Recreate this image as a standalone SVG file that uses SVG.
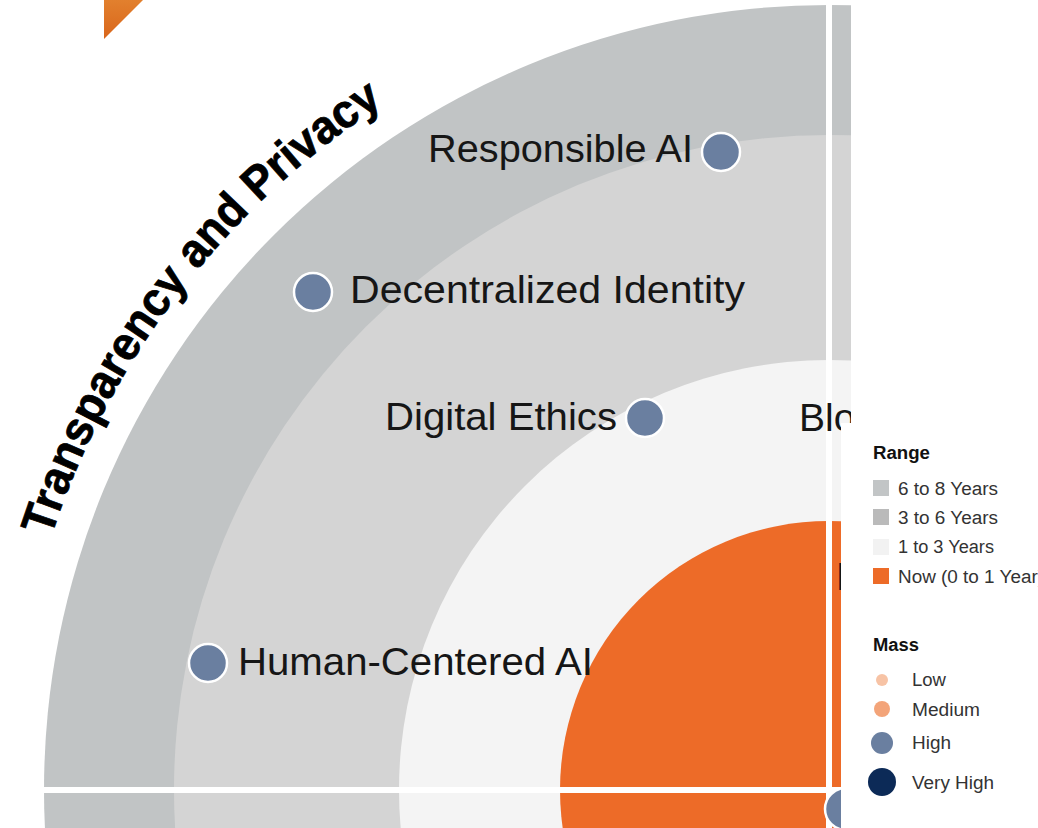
<svg xmlns="http://www.w3.org/2000/svg" width="1038" height="828" viewBox="0 0 1038 828">
  <defs>
    <linearGradient id="tri" x1="0" y1="0" x2="0" y2="1">
      <stop offset="0" stop-color="#e2802e"/>
      <stop offset="1" stop-color="#d9661b"/>
    </linearGradient>
    <clipPath id="chartClip">
      <path d="M0 0 H851 V423 H841 V828 H0 Z"/>
    </clipPath>
    <path id="themeArc" d="M46.7 550.8 A818 818 0 0 1 420 81.6"/>
    <style>
      .lbl { font-family: "Liberation Sans", Arial, sans-serif; font-size: 39px; fill: #161616; }
      .dot { fill: #6a7fa0; stroke: #ffffff; stroke-width: 2.5; }
      .axis { stroke: #ffffff; stroke-width: 6; }
      .lgT { font-family: "Liberation Sans", Arial, sans-serif; font-size: 18px; font-weight: bold; fill: #111111; }
      .lgI { font-family: "Liberation Sans", Arial, sans-serif; font-size: 18px; fill: #333333; }
      .theme { font-family: "Liberation Sans", Arial, sans-serif; font-size: 47px; font-weight: bold; fill: #000000; stroke: #000000; stroke-width: 0.8; }
    </style>
  </defs>

  <rect x="0" y="0" width="1038" height="828" fill="#ffffff"/>

  <polygon points="104,0 143,0 104,39" fill="url(#tri)"/>

  <g id="chart" clip-path="url(#chartClip)">
    <g id="rings">
      <circle id="ring-6to8" cx="829" cy="790" r="785" fill="#c1c4c5"/>
      <circle id="ring-3to6" cx="829" cy="790" r="655" fill="#d4d4d4"/>
      <circle id="ring-1to3" cx="829" cy="790" r="430" fill="#f4f4f4"/>
      <circle id="ring-now" cx="829" cy="790" r="269" fill="#ed6b28"/>
    </g>
    <g id="connectors">
      <line class="axis" x1="829" y1="0" x2="829" y2="828"/>
      <line class="axis" x1="40" y1="790" x2="851" y2="790"/>
    </g>
    <g id="node-responsible-ai">
      <circle class="dot" cx="721" cy="152" r="19"/>
      <text class="lbl" x="693" y="162" text-anchor="end" textLength="265" lengthAdjust="spacingAndGlyphs">Responsible AI</text>
    </g>
    <g id="node-decentralized-identity">
      <circle class="dot" cx="313" cy="292" r="19"/>
      <text class="lbl" x="350" y="303" textLength="395" lengthAdjust="spacingAndGlyphs">Decentralized Identity</text>
    </g>
    <g id="node-digital-ethics">
      <circle class="dot" cx="645" cy="418" r="19"/>
      <text class="lbl" x="617" y="430" text-anchor="end" textLength="232" lengthAdjust="spacingAndGlyphs">Digital Ethics</text>
    </g>
    <g id="node-blo">
      <text class="lbl" x="799" y="431">Blo</text>
    </g>
    <g id="node-p">
      <text class="lbl" x="836" y="590">P</text>
    </g>
    <g id="node-bottom">
      <circle class="dot" cx="846" cy="809" r="21"/>
    </g>
    <g id="node-human-centered-ai">
      <circle class="dot" cx="208" cy="663" r="19"/>
      <text class="lbl" x="238" y="675" textLength="355" lengthAdjust="spacingAndGlyphs">Human-Centered AI</text>
    </g>
  </g>

  <g id="theme-label">
    <text class="theme"><textPath href="#themeArc" startOffset="14.3" textLength="293" lengthAdjust="spacingAndGlyphs">Transparency</textPath></text>
    <text class="theme"><textPath href="#themeArc" startOffset="320" textLength="79.5" lengthAdjust="spacingAndGlyphs">and</textPath></text>
    <text class="theme"><textPath href="#themeArc" startOffset="412" textLength="159" lengthAdjust="spacingAndGlyphs">Privacy</textPath></text>
  </g>

  <g id="legend-range">
    <text class="lgT" x="873" y="459" textLength="57" lengthAdjust="spacingAndGlyphs">Range</text>
    <rect x="873" y="480" width="16" height="16" fill="#c2c5c6"/>
    <text class="lgI" x="898" y="495" textLength="100" lengthAdjust="spacingAndGlyphs">6 to 8 Years</text>
    <rect x="873" y="509" width="16" height="16" fill="#bababa"/>
    <text class="lgI" x="898" y="524" textLength="100" lengthAdjust="spacingAndGlyphs">3 to 6 Years</text>
    <rect x="873" y="539" width="16" height="16" fill="#f2f2f2"/>
    <text class="lgI" x="898" y="553" textLength="96" lengthAdjust="spacingAndGlyphs">1 to 3 Years</text>
    <rect x="873" y="568" width="16" height="16" fill="#ed6b28"/>
    <text class="lgI" x="898" y="583" textLength="146" lengthAdjust="spacingAndGlyphs">Now (0 to 1 Year)</text>
  </g>

  <g id="legend-mass">
    <text class="lgT" x="873" y="651" textLength="46" lengthAdjust="spacingAndGlyphs">Mass</text>
    <circle cx="882" cy="680" r="6" fill="#f7c3a5"/>
    <text class="lgI" x="912" y="686" textLength="34" lengthAdjust="spacingAndGlyphs">Low</text>
    <circle cx="882" cy="709" r="8" fill="#f3a479"/>
    <text class="lgI" x="912" y="716" textLength="68" lengthAdjust="spacingAndGlyphs">Medium</text>
    <circle cx="882" cy="743" r="11" fill="#6a7fa0"/>
    <text class="lgI" x="912" y="749" textLength="39" lengthAdjust="spacingAndGlyphs">High</text>
    <circle cx="882" cy="782" r="14" fill="#0c2a57"/>
    <text class="lgI" x="912" y="789" textLength="82" lengthAdjust="spacingAndGlyphs">Very High</text>
  </g>
</svg>
